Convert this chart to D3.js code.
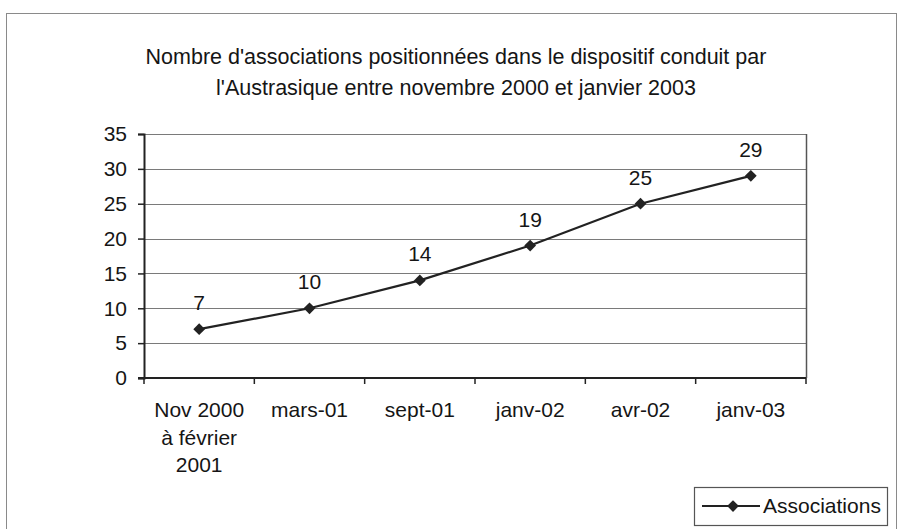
<!DOCTYPE html>
<html>
<head>
<meta charset="utf-8">
<script src="https://cdn.jsdelivr.net/npm/d3@7"></script>
<style>
  html, body { margin: 0; padding: 0; background: #fff; }
  svg text { font-family: "Liberation Sans", Arial, sans-serif; fill: #151515; }
</style>
</head>
<body>
<svg id="chart" width="898" height="529"></svg>
<script>
// Nombre d'associations, par période
const categories = [["Nov 2000", "à février", "2001"], ["mars-01"], ["sept-01"], ["janv-02"], ["avr-02"], ["janv-03"]];
const associations = [7, 10, 14, 19, 25, 29];
const yTicks = [0, 5, 10, 15, 20, 25, 30, 35];
const titleLines = ["Nombre d'associations positionnées dans le dispositif conduit par",
                    "l'Austrasique entre novembre 2000 et janvier 2003"];
const seriesName = "Associations";

const svg = d3.select("#chart");
const plot = { left: 144, right: 806, top: 134, bottom: 378 };
const ink = "#222";
const fs = 21;

// outer frame
svg.append("rect").attr("x", 6.5).attr("y", 13.5).attr("width", 890).attr("height", 520)
  .attr("fill", "none").attr("stroke", "#8a8a8a").attr("stroke-width", 1);

// title
svg.append("g").selectAll("text").data(titleLines).join("text")
  .attr("x", 456).attr("y", (d, i) => 64 + i * 31)
  .attr("text-anchor", "middle").attr("font-size", 21.5)
  .text(d => d);

const keys = d3.range(categories.length);
const x = d3.scaleBand().domain(keys).range([plot.left, plot.right]);
const y = d3.scaleLinear().domain([0, 35]).range([plot.bottom, plot.top]);

// horizontal gridlines
svg.append("g").selectAll("line").data(yTicks.filter(t => t > 0)).join("line")
  .attr("x1", plot.left).attr("x2", plot.right)
  .attr("y1", d => Math.round(y(d)) + 0.5).attr("y2", d => Math.round(y(d)) + 0.5)
  .attr("stroke", "#7a7a7a").attr("stroke-width", 1);

// plot area frame (right side)
svg.append("line").attr("x1", plot.right + 0.5).attr("x2", plot.right + 0.5)
  .attr("y1", plot.top).attr("y2", plot.bottom)
  .attr("stroke", "#555").attr("stroke-width", 1.5);

// y axis
const yAxis = svg.append("g").attr("transform", `translate(${plot.left},0)`)
  .call(d3.axisLeft(y).tickValues(yTicks).tickSize(6).tickPadding(11));
yAxis.select(".domain").attr("stroke", ink).attr("stroke-width", 2);
yAxis.selectAll(".tick line").attr("stroke", ink).attr("stroke-width", 1.5);
yAxis.selectAll("text").attr("font-size", fs).attr("fill", "#151515")
  .attr("font-family", "'Liberation Sans', Arial, sans-serif");

// x axis: ticks at category boundaries
const xg = svg.append("g");
xg.append("line").attr("x1", plot.left - 6).attr("x2", plot.right)
  .attr("y1", plot.bottom).attr("y2", plot.bottom)
  .attr("stroke", ink).attr("stroke-width", 2);
xg.selectAll("line.tk").data(d3.range(categories.length + 1)).join("line").attr("class", "tk")
  .attr("x1", i => plot.left + i * x.bandwidth()).attr("x2", i => plot.left + i * x.bandwidth())
  .attr("y1", plot.bottom).attr("y2", plot.bottom + 6)
  .attr("stroke", ink).attr("stroke-width", 1.5);
xg.selectAll("text.cat").data(keys).join("text").attr("class", "cat")
  .attr("text-anchor", "middle").attr("font-size", fs)
  .attr("transform", i => `translate(${x(i) + x.bandwidth() / 2},417)`)
  .selectAll("tspan").data(i => categories[i]).join("tspan")
  .attr("x", 0).attr("y", (d, j) => j * 27.5).text(d => d);

// line + markers
const cx = i => x(i) + x.bandwidth() / 2;
svg.append("path").datum(associations)
  .attr("d", d3.line().x((d, i) => cx(i)).y(d => y(d)))
  .attr("fill", "none").attr("stroke", ink).attr("stroke-width", 2.2);

const diamond = d3.symbol().type(d3.symbolDiamond2).size(88);
svg.append("g").selectAll("path").data(associations).join("path")
  .attr("d", diamond).attr("transform", (d, i) => `translate(${cx(i)},${y(d)})`)
  .attr("fill", ink);

// value labels
svg.append("g").selectAll("text").data(associations).join("text")
  .attr("x", (d, i) => cx(i)).attr("y", d => y(d) - 19)
  .attr("text-anchor", "middle").attr("font-size", fs)
  .text(d => d);

// legend
const lg = svg.append("g");
lg.append("rect").attr("x", 694.5).attr("y", 487.5).attr("width", 193).attr("height", 38)
  .attr("fill", "#fff").attr("stroke", "#555").attr("stroke-width", 1.2);
lg.append("line").attr("x1", 702).attr("x2", 760).attr("y1", 506).attr("y2", 506)
  .attr("stroke", ink).attr("stroke-width", 2.2);
lg.append("path").attr("d", diamond).attr("transform", "translate(733,506)").attr("fill", ink);
lg.append("text").attr("x", 763).attr("y", 513).attr("font-size", fs).text(seriesName);
</script>
</body>
</html>
